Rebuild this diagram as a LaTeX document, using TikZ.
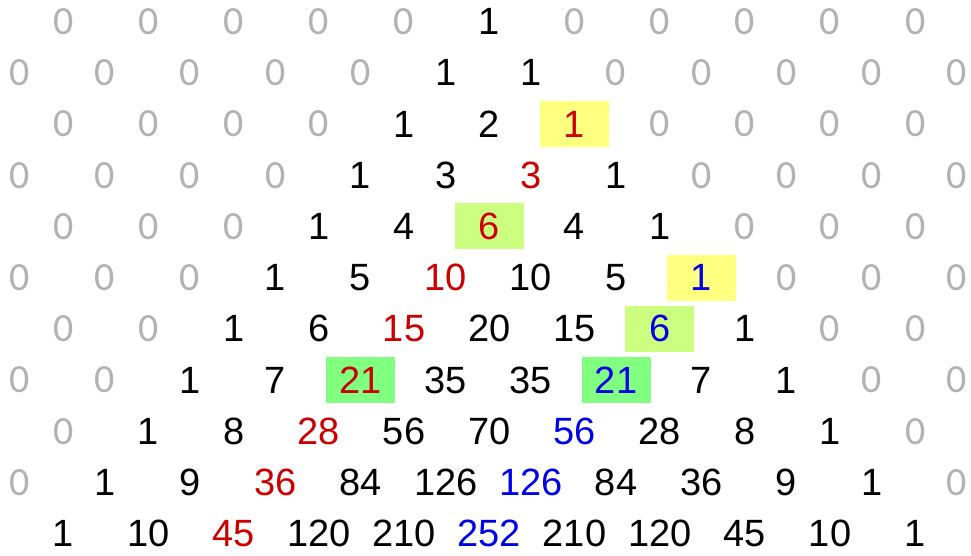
\documentclass[tikz,border=0pt]{standalone}
\usepackage{fontspec}
\setmainfont{Liberation Sans}
\newfontfamily\zerofont{Carlito}
\usepackage{tikz}
\usetikzlibrary{backgrounds}
\definecolor{zerogray}{RGB}{178,178,178}
\definecolor{darkred}{RGB}{204,0,0}
\definecolor{darkblue}{RGB}{0,0,230}
\definecolor{hlyellow}{RGB}{255,255,128}
\definecolor{hllime}{RGB}{204,255,128}
\definecolor{hlgreen}{RGB}{128,255,128}

\begin{document}
\begin{tikzpicture}[x=1pt, y=1pt,
    num/.style={inner sep=0pt, font=\fontsize{38}{42}\selectfont},
    zero/.style={num, text=zerogray, font=\zerofont\fontsize{40}{44}\selectfont},
    plain/.style={num, text=black},
    redval/.style={num, text=darkred},
    blueval/.style={num, text=darkblue},
    hlbox/.style={inner sep=0pt, minimum width=69pt, minimum height=46pt}]
          \useasboundingbox (0,0) rectangle (971,-555);

          % Draw the rows of the triangle, padded with zeros
          \foreach \n/\row in {0/{0,0,0,0,0,1,0,0,0,0,0},
                               1/{0,0,0,0,0,1,1,0,0,0,0,0},
                               2/{0,0,0,0,1,2,1,0,0,0,0},
                               3/{0,0,0,0,1,3,3,1,0,0,0,0},
                               4/{0,0,0,1,4,6,4,1,0,0,0},
                               5/{0,0,0,1,5,10,10,5,1,0,0,0},
                               6/{0,0,1,6,15,20,15,6,1,0,0},
                               7/{0,0,1,7,21,35,35,21,7,1,0,0},
                               8/{0,1,8,28,56,70,56,28,8,1,0},
                               9/{0,1,9,36,84,126,126,84,36,9,1,0},
                               10/{1,10,45,120,210,252,210,120,45,10,1}} {
            \pgfmathsetmacro\xs{mod(\n,2)==0 ? 63.3 : 19.7}
            \foreach \v [count=\k from 0] in \row {
              \pgfmathtruncatemacro\j{\k - 5 + floor(\n/2)}
              \ifnum\v=0 \tikzset{cur/.style={zero}}%
              \else\ifnum\j=2 \tikzset{cur/.style={redval}}%
              \else\ifnum\j=5 \tikzset{cur/.style={blueval}}%
              \else \tikzset{cur/.style={plain}}\fi\fi\fi
              \node[cur] (r\n-\k) at (\xs+85.2*\k, -21.6-51.2*\n) {\v};
            }
          }

          % Draw the highlight boxes behind the numbers
          \begin{scope}[on background layer]
            \node[hlbox, fill=hlyellow] (hlA) at (r2-6) {};
            \node[hlbox, fill=hllime] (hlB) at (r4-5) {};
            \node[hlbox, fill=hlgreen] (hlC) at (r7-4) {};
            \node[hlbox, fill=hlyellow] (hlD) at (r5-8) {};
            \node[hlbox, fill=hllime] (hlE) at (r6-7) {};
            \node[hlbox, fill=hlgreen] (hlF) at (r7-7) {};
          \end{scope}
        \end{tikzpicture}
\end{document}
